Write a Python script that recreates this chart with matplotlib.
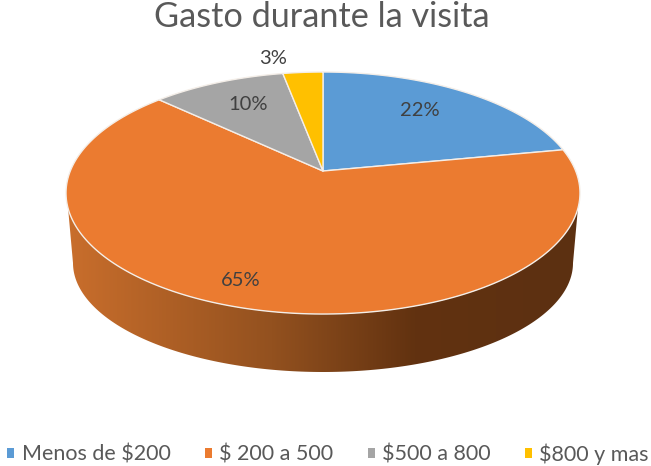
import numpy as np
import matplotlib
matplotlib.use("Agg")
import matplotlib.pyplot as plt
from matplotlib.colors import LinearSegmentedColormap
from matplotlib.patches import Patch, Polygon

categories = ["Menos de $200", "$ 200 a 500", "$500 a 800", "$800 y mas"]
shares = [22, 65, 10, 3]
colors = ["#5B9BD5", "#EB7B30", "#A5A5A5", "#FFC000"]

W, H = 651, 466
plt.rcParams["font.family"] = ["Lato", "DejaVu Sans"]

fig = plt.figure(figsize=(W / 100, H / 100), dpi=100)
ax = fig.add_axes([0, 0, 1, 1])
ax.axis("off")


def project(theta, cx=323, cy=171, a=252.7, b=117, k=0.182):
    # disc seen in perspective, theta runs clockwise from 12 o'clock
    u, v = np.sin(theta), np.cos(theta)
    return cx + a * u / (1 + k * v), cy - b * v / (1 + k * v)


# side wall, gradient clipped to the band below the top face
t = np.linspace(np.pi / 2, 3 * np.pi / 2, 400)
fx, fy = project(t)
keep = fy >= 208
t2 = np.linspace(0, np.pi, 200)
wall_x = 323 + 250 * np.cos(t2)
wall_y = 263 + 109 * np.sin(t2)
outline = np.column_stack([np.r_[fx[keep][::-1], wall_x], np.r_[fy[keep][::-1], wall_y]])
wall = Polygon(outline, closed=True, fc="none", ec="none")
ax.add_patch(wall)
wall_cmap = LinearSegmentedColormap.from_list(
    "wall", [(0, "#C96E2C"), (0.4, "#93511F"), (0.68, "#623210"), (1, "#5C3012")])
grad = ax.imshow(np.linspace(0, 1, 256).reshape(1, -1), cmap=wall_cmap, aspect="auto",
                 extent=(67, 578, 373, 205), zorder=0)
grad.set_clip_path(wall)

# top face, slices meet at the projected centre
edges = np.cumsum([0] + shares) / sum(shares) * 2 * np.pi
for start, end, c in zip(edges[:-1], edges[1:], colors):
    arc = np.linspace(start, end, 200)
    x, y = project(arc)
    ax.fill(np.r_[323, x], np.r_[171, y], facecolor=c, edgecolor="#F4EEE8",
            linewidth=1.0, joinstyle="round", zorder=2)

ax.set_xlim(0, W)
ax.set_ylim(H, 0)

# data labels
label_pos = [(420, 111), (241, 281), (248, 104), (273, 58)]
for s, (px, py) in zip(shares, label_pos):
    ax.text(px, py, f"{s}%", fontsize=14.5, color="#404040", ha="center", va="center", zorder=5)

ax.text(322, 17, "Gasto durante la visita", fontsize=24.7, color="#595959", ha="center", va="center")

handles = [Patch(facecolor=c, edgecolor="none") for c in colors]
fig.legend(handles, categories, ncol=4, frameon=False, loc="center", bbox_to_anchor=(328 / W, 1 - 454 / H),
           fontsize=15.5, labelcolor="#595959", handlelength=0.33, handleheight=0.33,
           handletextpad=0.33, columnspacing=1.6, borderpad=0, borderaxespad=0)

fig.savefig("out.png", dpi=100)
